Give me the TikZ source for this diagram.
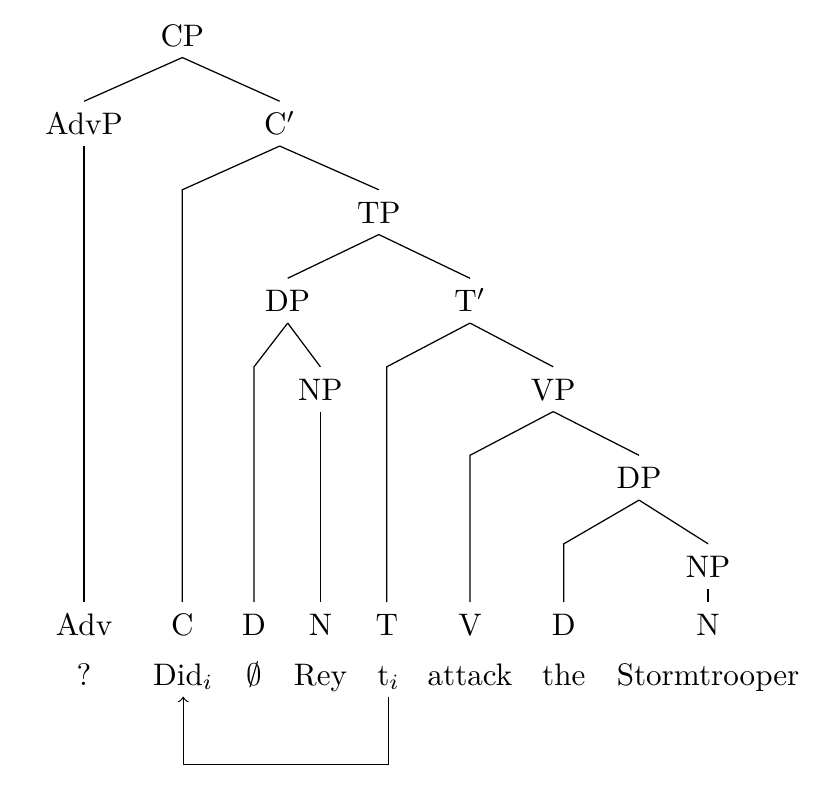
\documentclass[tikz,border=0pt]{standalone}
\usepackage{amsmath,amssymb}
\usepackage{tikz}
\usetikzlibrary{positioning}

\begin{document}
\begin{tikzpicture}[lbl/.style={anchor=base, text height=7pt, text depth=0pt, inner sep=3.5pt}]
        \useasboundingbox (0,0.52) rectangle (9.49,-8.63);

        % Nós internos
        \node[lbl] (cp) at (2.06,0) {CP};
        \node[lbl] (advp) at (0.95,-1) {AdvP};
        \node[lbl] (cbar) at (3.16,-1) {C$'$};
        \node[lbl] (tp) at (4.28,-2) {TP};
        \node[lbl] (dpa) at (3.25,-3) {DP};
        \node[lbl] (tbar) at (5.31,-3) {T$'$};
        \node[lbl] (npa) at (3.62,-4) {NP};
        \node[lbl] (vp) at (6.25,-4) {VP};
        \node[lbl] (dpb) at (7.22,-5) {DP};
        \node[lbl] (npb) at (8.0,-6) {NP};

        % Folhas
        \node[lbl] (adv) at (0.95,-6.66) {Adv};
        \node[lbl] (c) at (2.06,-6.66) {C};
        \node[lbl] (da) at (2.87,-6.66) {D};
        \node[lbl] (na) at (3.62,-6.66) {N};
        \node[lbl] (t) at (4.37,-6.66) {T};
        \node[lbl] (v) at (5.31,-6.66) {V};
        \node[lbl] (db) at (6.37,-6.66) {D};
        \node[lbl] (nb) at (8.0,-6.66) {N};

        % Palavras
        \node[lbl] (q) at (0.95,-7.22) {?};
        \node[lbl] (did) at (2.07,-7.22) {Did$_i$};
        \node[lbl] (nul) at (2.87,-7.22) {$\emptyset$};
        \node[lbl] (rey) at (3.62,-7.22) {Rey};
        \node[lbl] (ti) at (4.39,-7.22) {t$_i$};
        \node[lbl] (atk) at (5.31,-7.22) {attack};
        \node[lbl] (the) at (6.37,-7.22) {the};
        \node[lbl] (st) at (8.0,-7.22) {Stormtrooper};

        % Ramos
        \draw (advp.north) -- (cp.south) -- (cbar.north);
        \draw (advp.south) -- (adv.north);
        \draw (cbar.south) -- (c.north |- tp.north) -- (c.north);
        \draw (cbar.south) -- (tp.north);
        \draw (dpa.north) -- (tp.south) -- (tbar.north);
        \draw (dpa.south) -- (da.north |- npa.north) -- (da.north);
        \draw (dpa.south) -- (npa.north);
        \draw (npa.south) -- (na.north);
        \draw (tbar.south) -- (t.north |- vp.north) -- (t.north);
        \draw (tbar.south) -- (vp.north);
        \draw (vp.south) -- (v.north |- dpb.north) -- (v.north);
        \draw (vp.south) -- (dpb.north);
        \draw (dpb.south) -- (db.north |- npb.north) -- (db.north);
        \draw (dpb.south) -- (npb.north);
        \draw (npb.south) -- (nb.north);

        % Movimento
        \coordinate (mv) at (4.39,-8.12);
        \draw[->] (ti.south) -- (mv) -| (did.south);
    \end{tikzpicture}
\end{document}
